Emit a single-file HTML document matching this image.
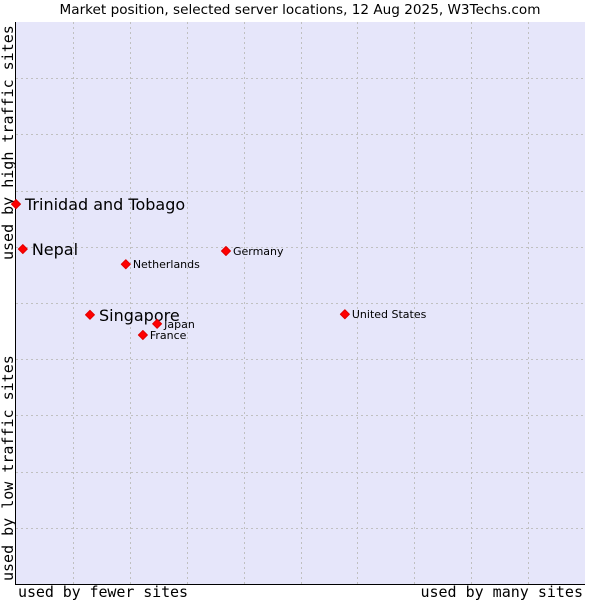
<!DOCTYPE html>
<html><head><meta charset="utf-8"><style>body{margin:0;background:#fff}svg{display:block}</style></head>
<body>
<svg id="c" width="600" height="600" xmlns="http://www.w3.org/2000/svg">
<text x="300" y="14" text-anchor="middle" font-family="DejaVu Sans, sans-serif" font-size="13.6" fill="#000">Market position, selected server locations, 12 Aug 2025, W3Techs.com</text>
<rect x="16" y="22" width="569" height="562" fill="#e6e6fa"/>
<g id="grid"></g>
<line x1="15.5" y1="22" x2="15.5" y2="584.5" stroke="#000"/>
<line x1="15" y1="584.5" x2="585" y2="584.5" stroke="#000"/>
<text x="18" y="597" font-family="DejaVu Sans Mono, monospace" font-size="15" textLength="170">used by fewer sites</text>
<text x="583" y="597" text-anchor="end" font-family="DejaVu Sans Mono, monospace" font-size="15">used by many sites</text>
<text transform="translate(13,581) rotate(-90)" font-family="DejaVu Sans Mono, monospace" font-size="15">used by low traffic sites</text>
<text transform="translate(13,260) rotate(-90)" font-family="DejaVu Sans Mono, monospace" font-size="15">used by high traffic sites</text>
<g id="pts"></g>
</svg>
<script>
const names=["Trinidad and Tobago","Nepal","Netherlands","Germany","Singapore","Japan","France","United States"];
const xVals=[0,1.2,19.3,36.9,13.0,24.8,22.3,57.8];
const yVals=[67.6,59.6,56.9,59.25,47.9,46.3,44.3,48.0];
const bigLabel=[true,true,false,false,true,false,false,false];
const X0=16,X1=585,Y0=584,Y1=22;
const sx=v=>X0+v/100*(X1-X0), sy=v=>Y0-v/100*(Y0-Y1);
const NS="http://www.w3.org/2000/svg";
const g=document.getElementById('grid');
for(let i=1;i<10;i++){
 const x=Math.round(sx(i*10))+0.5, y=Math.round(sy(i*10))+0.5;
 let l=document.createElementNS(NS,'line');
 l.setAttribute('x1',x);l.setAttribute('x2',x);l.setAttribute('y1',Y1);l.setAttribute('y2',Y0);
 l.setAttribute('stroke','#c0c0c0');l.setAttribute('stroke-dasharray','2,3');
 
 
 g.appendChild(l);
 l=document.createElementNS(NS,'line');
 l.setAttribute('x1',X0);l.setAttribute('x2',X1);l.setAttribute('y1',y);l.setAttribute('y2',y);
 l.setAttribute('stroke','#c0c0c0');l.setAttribute('stroke-dasharray','2,3');
 
 
 g.appendChild(l);
}
const p=document.getElementById('pts');
names.forEach((n,i)=>{
 const x=sx(xVals[i]),y=sy(yVals[i]);
 const d=document.createElementNS(NS,'path');
 d.setAttribute('d',`M${x-4.5},${y}L${x},${y-4.5}L${x+4.5},${y}L${x},${y+4.5}Z`);
 d.setAttribute('fill','#ff0000');d.setAttribute('stroke','#e00000');d.setAttribute('stroke-width','1');d.setAttribute('stroke-linejoin','round');
 
 
 p.appendChild(d);
 const t=document.createElementNS(NS,'text');
 t.setAttribute('x',x+(bigLabel[i]?9:7));
 t.setAttribute('y',y+(bigLabel[i]?6:4));
 t.setAttribute('font-family','DejaVu Sans, sans-serif');
 t.setAttribute('font-size',bigLabel[i]?'16':'11');
 t.textContent=n;
 
 
 p.appendChild(t);
});
</script>
</body></html>
